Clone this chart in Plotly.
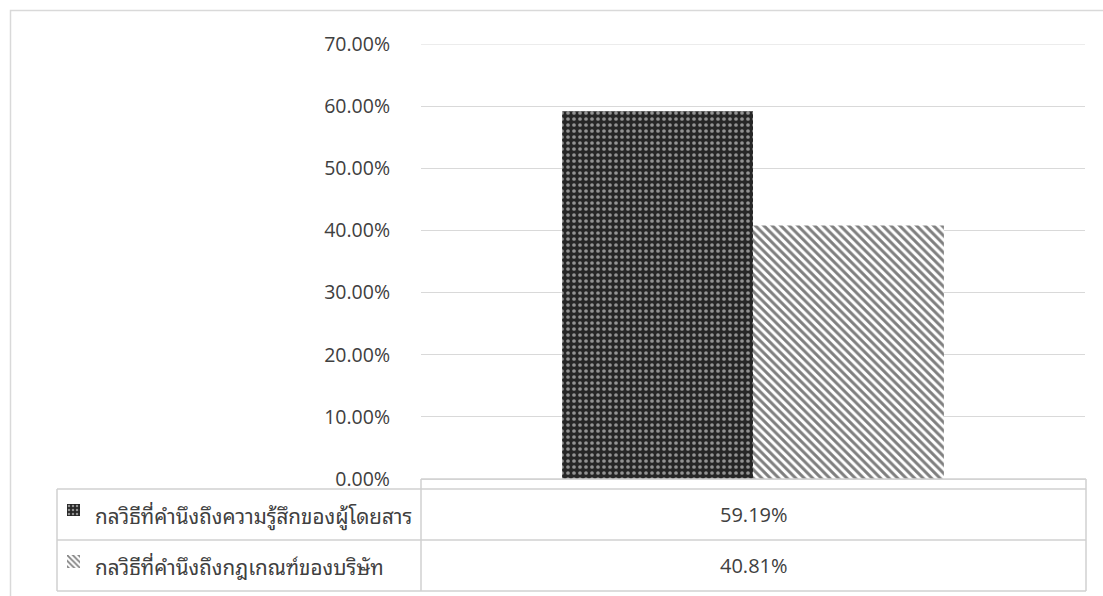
import plotly.graph_objects as go

# Data
series_names = [
    "กลวิธีที่คำนึงถึงความรู้สึกของผู้โดยสาร",
    "กลวิธีที่คำนึงถึงกฎเกณฑ์ของบริษัท",
]
series_values = [0.5919, 0.4081]
category = [""]
tick_values = [0, 0.1, 0.2, 0.3, 0.4, 0.5, 0.6, 0.7]
tick_labels = ["0.00%", "10.00%", "20.00%", "30.00%", "40.00%", "50.00%", "60.00%", "70.00%"]

W, H = 1103, 596
GRID = "#d9d9d9"
NUM_FONT = "Open Sans, Segoe UI, sans-serif"
THAI_FONT = "Noto Sans Thai Looped, Noto Serif Thai, Noto Sans Thai, Tahoma, sans-serif"


def px(x):
    return x / W


def py(y):
    return 1 - y / H


# fill patterns for the two series
patterns = [
    dict(shape=".", fgcolor="#ffffff", bgcolor="#262626", size=6, solidity=0.3),
    dict(shape="\\", fgcolor="#000000", bgcolor="#ffffff", size=6, solidity=0.5),
]
key_patterns = [
    dict(shape=".", fgcolor="#ffffff", bgcolor="#262626", size=4, solidity=0.3),
    dict(shape="\\", fgcolor="#000000", bgcolor="#ffffff", size=4, solidity=0.45),
]

fig = go.Figure()

for name, val, pat in zip(series_names, series_values, patterns):
    fig.add_trace(go.Bar(
        x=category, y=[val], name=name,
        marker=dict(color="#ffffff", line=dict(width=0), pattern=pat),
        xaxis="x", yaxis="y", showlegend=False,
    ))

# plot area in pixels
PL, PR, PT, PB = 421, 1085, 44, 479

layout = dict(
    width=W, height=H, autosize=False,
    margin=dict(l=0, r=0, t=0, b=0, pad=0, autoexpand=False),
    paper_bgcolor="#ffffff", plot_bgcolor="#ffffff",
    barmode="group", bargap=0.425, bargroupgap=0,
    showlegend=False,
    xaxis=dict(domain=[px(PL), px(PR)], showticklabels=False, showgrid=False,
               zeroline=False, showline=False, ticks="", automargin=False),
    yaxis=dict(domain=[py(PB), py(PT)], range=[0, 0.7], tickvals=tick_values,
               ticktext=tick_labels, showgrid=True, gridcolor=GRID, gridwidth=1,
               zeroline=True, zerolinecolor=GRID, zerolinewidth=1, showline=False,
               ticks="", ticklabelstandoff=30, automargin=False,
               tickfont=dict(family=NUM_FONT, size=19.5, color="#404040")),
)

# legend keys inside the data table, drawn as tiny bars with the same fills
key_boxes = [(67, 80, 504, 516), (67, 80, 555, 568)]
for i, ((x0, x1, y0, y1), pat) in enumerate(zip(key_boxes, key_patterns), start=2):
    fig.add_trace(go.Bar(
        x=[0], y=[1], width=[1],
        marker=dict(color="#ffffff", line=dict(width=0), pattern=pat),
        xaxis=f"x{i}", yaxis=f"y{i}", showlegend=False, hoverinfo="skip",
    ))
    layout[f"xaxis{i}"] = dict(domain=[px(x0), px(x1)], range=[-0.5, 0.5], visible=False,
                               anchor=f"y{i}", fixedrange=True, automargin=False)
    layout[f"yaxis{i}"] = dict(domain=[py(y1), py(y0)], range=[0, 1], visible=False,
                               anchor=f"x{i}", fixedrange=True, automargin=False)

fig.update_layout(**layout)

# outer chart frame, top gridline and data table lines
line = dict(color=GRID, width=1.5)
shapes = [
    dict(type="rect", xref="paper", yref="paper", x0=px(10.5), x1=px(1110), y0=py(10.5), y1=py(610),
         line=line, fillcolor="rgba(0,0,0,0)", layer="below"),
    dict(type="line", xref="paper", yref="y", x0=px(PL), x1=px(PR), y0=0.7, y1=0.7,
         line=dict(color=GRID, width=1), layer="below"),
]
tbl = dict(color="#d0d0d0", width=1.5)
TL, TC, TR = 57, 421, 1086
rows_y = [489, 540, 591]
shapes += [
    dict(type="line", xref="paper", yref="paper", x0=px(TC), x1=px(TR), y0=py(479), y1=py(479), line=tbl),
    dict(type="line", xref="paper", yref="paper", x0=px(TL), x1=px(TR), y0=py(rows_y[0]), y1=py(rows_y[0]), line=tbl),
    dict(type="line", xref="paper", yref="paper", x0=px(TL), x1=px(TR), y0=py(rows_y[1]), y1=py(rows_y[1]), line=tbl),
    dict(type="line", xref="paper", yref="paper", x0=px(TL), x1=px(TR), y0=py(rows_y[2]), y1=py(rows_y[2]), line=tbl),
    dict(type="line", xref="paper", yref="paper", x0=px(TL), x1=px(TL), y0=py(rows_y[0]), y1=py(rows_y[2]), line=tbl),
    dict(type="line", xref="paper", yref="paper", x0=px(TC), x1=px(TC), y0=py(479), y1=py(rows_y[2]), line=tbl),
    dict(type="line", xref="paper", yref="paper", x0=px(TR), x1=px(TR), y0=py(479), y1=py(rows_y[2]), line=tbl),
]
fig.update_layout(shapes=shapes)

# table text: series names and values
annotations = []
for i, (name, val) in enumerate(zip(series_names, series_values)):
    yc = (rows_y[i] + rows_y[i + 1]) / 2
    annotations.append(dict(xref="paper", yref="paper", x=px(93), y=py(yc), text=name,
                            showarrow=False, xanchor="left", yanchor="middle",
                            font=dict(family=THAI_FONT, size=20.6, color="#404040")))
    annotations.append(dict(xref="paper", yref="paper", x=px((TC + TR) / 2), y=py(yc),
                            text=f"{val * 100:.2f}%", showarrow=False, xanchor="center",
                            yanchor="middle",
                            font=dict(family=NUM_FONT, size=20, color="#404040")))
fig.update_layout(annotations=annotations)

fig.write_html("out.html")
